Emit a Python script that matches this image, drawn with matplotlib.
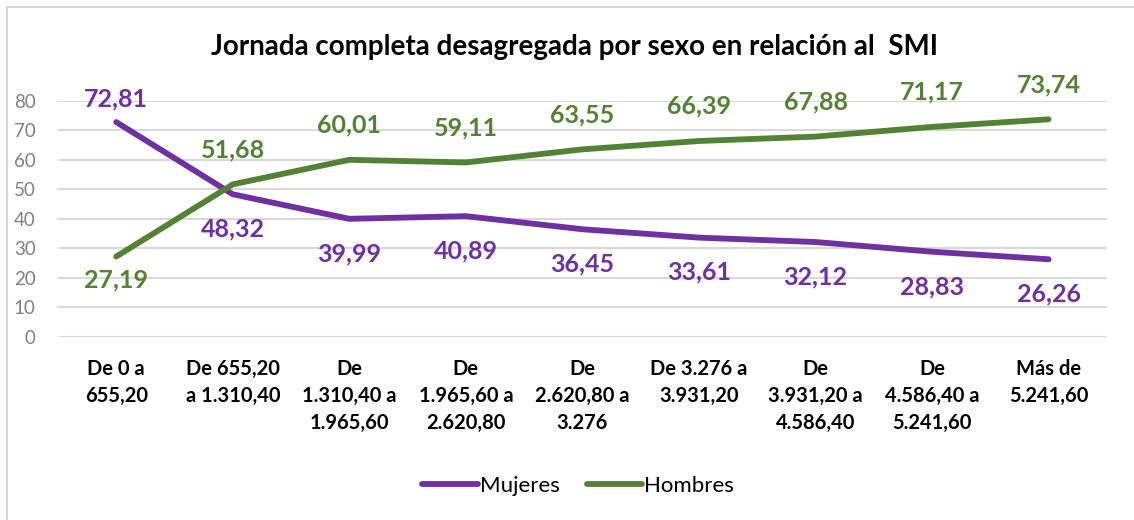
import matplotlib
matplotlib.use('Agg')
import matplotlib.pyplot as plt
from matplotlib.lines import Line2D

categories = ['De 0 a\n655,20', 'De 655,20\na 1.310,40', 'De\n1.310,40 a\n1.965,60',
              'De\n1.965,60 a\n2.620,80', 'De\n2.620,80 a\n3.276', 'De 3.276 a\n3.931,20',
              'De\n3.931,20 a\n4.586,40', 'De\n4.586,40 a\n5.241,60', 'Más de\n5.241,60']
mujeres = [72.81, 48.32, 39.99, 40.89, 36.45, 33.61, 32.12, 28.83, 26.26]
hombres = [27.19, 51.68, 60.01, 59.11, 63.55, 66.39, 67.88, 71.17, 73.74]
# label placement: +1 above the point, -1 below
mujeres_pos = [1, -1, -1, -1, -1, -1, -1, -1, -1]
hombres_pos = [-1, 1, 1, 1, 1, 1, 1, 1, 1]

purple = '#7030A0'
green = '#548235'

plt.rcParams['font.family'] = ['Lato', 'DejaVu Sans']

fig = plt.figure(figsize=(11.34, 5.2), dpi=100)
ax = fig.add_axes([0.0511, 0.3525, 0.925, 0.4535])

x = range(len(categories))
ax.plot(x, mujeres, color=purple, lw=4.2, solid_capstyle='round', label='Mujeres', zorder=3)
ax.plot(x, hombres, color=green, lw=4.2, solid_capstyle='round', label='Hombres', zorder=3)

for vals, pos, col in [(mujeres, mujeres_pos, purple), (hombres, hombres_pos, green)]:
    for i, (v, p) in enumerate(zip(vals, pos)):
        # first column labels sit closer to the line in the original
        off = 17 if i == 0 else 25
        ax.annotate(f'{v:.2f}'.replace('.', ','), (i, v), xytext=(0, off * p),
                    textcoords='offset points', ha='center', va='center',
                    fontsize=18, color=col, fontweight='bold')

ax.set_xlim(-0.5, len(categories) - 0.5)
ax.set_ylim(0, 80)
ax.set_yticks(range(0, 90, 10))
ax.set_xticks(list(x))
ax.set_xticklabels(categories, fontsize=14.5, fontweight='bold', linespacing=1.45, va='top')
ax.tick_params(axis='x', length=0, pad=16)
ax.tick_params(axis='y', length=0, pad=16, labelsize=13.5, labelcolor='#808080')
ax.grid(axis='y', color='#d9d9d9', lw=1.5)
ax.set_axisbelow(True)
for s in ax.spines.values():
    s.set_visible(False)

fig.text(0.507, 0.91, 'Jornada completa desagregada por sexo en relación al  SMI',
         ha='center', va='center', fontsize=20, fontweight='bold')

fig.legend(loc='center', bbox_to_anchor=(0.51, 0.065), ncol=2, frameon=False,
           fontsize=16, handlelength=2.5, handletextpad=0.1, columnspacing=1.2)

# chart-area frame (only top and left edges are visible in the crop)
fig.add_artist(Line2D([0.006, 1.0], [0.986, 0.986], transform=fig.transFigure,
                      color='#d0d0d0', lw=1.2))
fig.add_artist(Line2D([0.006, 0.006], [0.0, 0.986], transform=fig.transFigure,
                      color='#d0d0d0', lw=1.2))

fig.savefig('out.png', dpi=100)
